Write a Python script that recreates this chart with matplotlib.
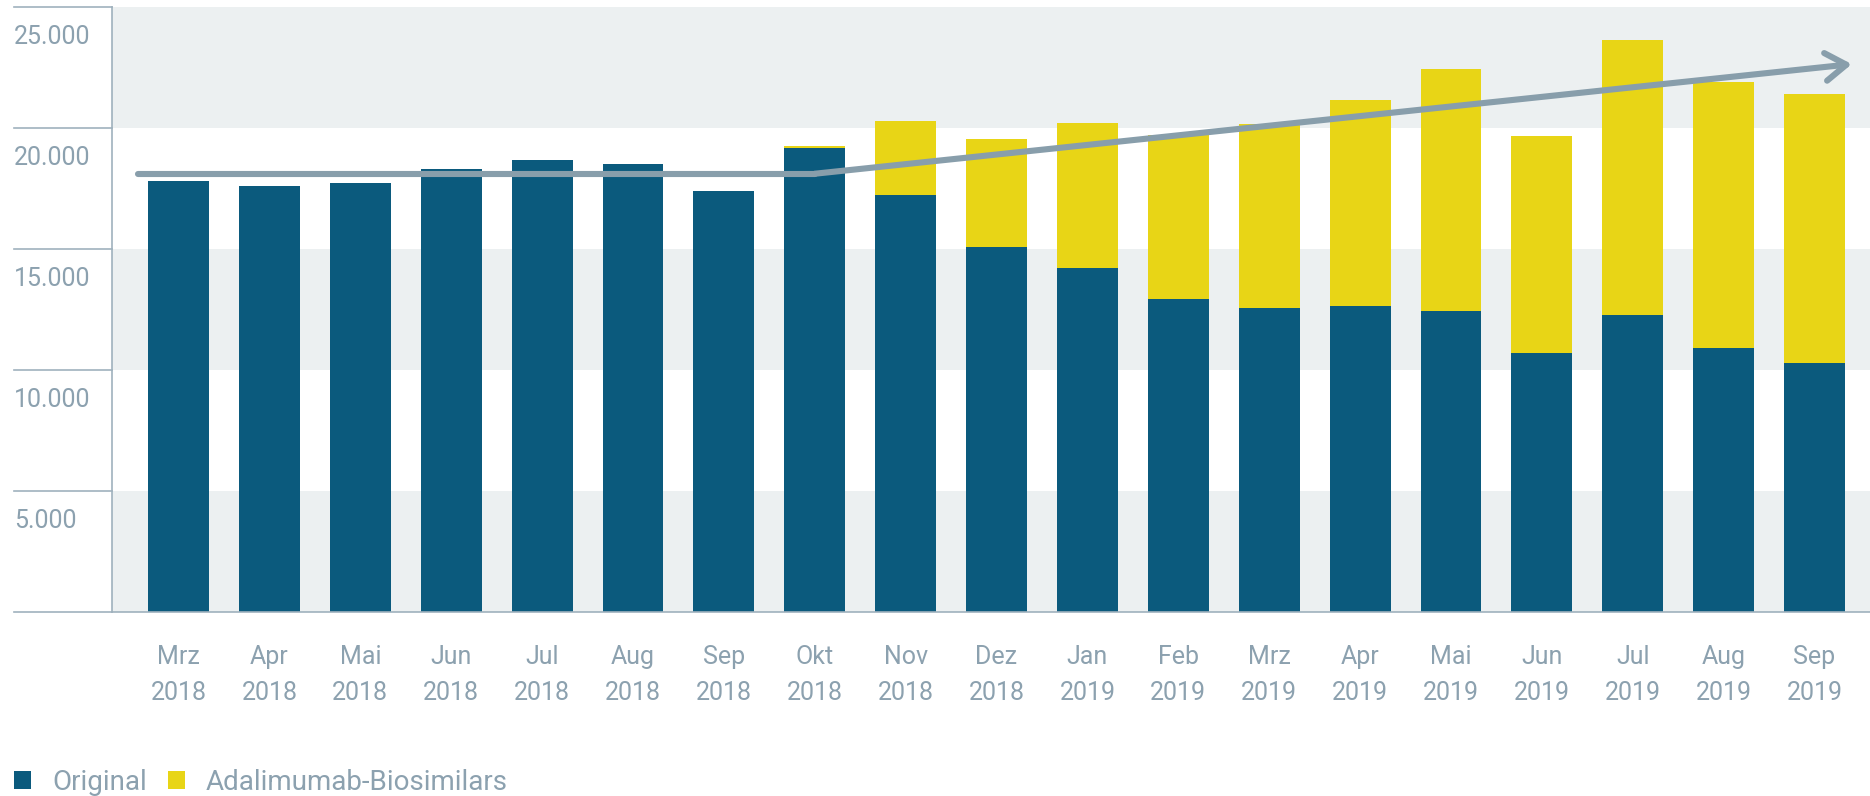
import matplotlib
matplotlib.use('Agg')
import matplotlib.pyplot as plt
from matplotlib.transforms import offset_copy

plt.rcParams['font.family'] = ['Roboto', 'DejaVu Sans']

# Verordnungen Adalimumab pro Monat
months = ['Mrz', 'Apr', 'Mai', 'Jun', 'Jul', 'Aug', 'Sep', 'Okt', 'Nov', 'Dez',
          'Jan', 'Feb', 'Mrz', 'Apr', 'Mai', 'Jun', 'Jul', 'Aug', 'Sep']
years = ['2018'] * 10 + ['2019'] * 9
original = [17800, 17620, 17710, 18300, 18670, 18500, 17390, 19170, 17240, 15080,
            14210, 12940, 12570, 12660, 12420, 10700, 12280, 10910, 10300]
biosimilars = [0, 0, 0, 0, 0, 0, 0, 90, 3050, 4450,
               6000, 6760, 7610, 8500, 10010, 8975, 11350, 10990, 11100]
y_ticks = [0, 5000, 10000, 15000, 20000, 25000]

# Trendpfeil
trend_x = [-0.45, 7, 18.41]
trend_y = [18110, 18110, 22640]

blue = '#0b5a7d'
yellow = '#e8d516'
band = '#ecf0f1'
grey = '#889eab'
txt = '#8ca1af'
axc = '#9fb1bd'

fig = plt.figure(figsize=(18.7, 7.96), dpi=100)
ax = fig.add_axes([112 / 1870, 184 / 796, 1758 / 1870, 605 / 796])

x = list(range(len(months)))
b1 = ax.bar(x, original, width=0.67, color=blue, zorder=2)
b2 = ax.bar(x, biosimilars, width=0.67, bottom=original, color=yellow, zorder=2)

# graue Streifen
for lo in y_ticks[0:-1:2]:
    ax.axhspan(lo, lo + 5000, color=band, lw=0, zorder=0)

ax.set_xlim(-0.732, 18.61)
ax.set_ylim(0, 25000)

# Trend
ax.plot(trend_x[:2], trend_y[:2], color=grey, lw=4.4, solid_capstyle='round', zorder=3)
ax.annotate('', xy=(trend_x[2], trend_y[2]), xytext=(trend_x[1], trend_y[1]),
            arrowprops=dict(arrowstyle='->, head_length=0.75, head_width=0.5',
                            mutation_scale=20, color=grey, lw=4.4,
                            shrinkA=0, shrinkB=0, capstyle='round', joinstyle='round'),
            zorder=3)

# y-Achse
for s in ['top', 'right']:
    ax.spines[s].set_visible(False)
ax.spines['left'].set_color(axc)
ax.spines['bottom'].set_color(axc)
ax.spines['left'].set_linewidth(1.2)
ax.spines['bottom'].set_linewidth(1.2)
ax.set_yticks([])
ytr = ax.get_yaxis_transform()
lab_tr = offset_copy(ytr, fig=fig, y=-30, units='dots')
for v in y_ticks:
    ax.plot([-0.0557, 0], [v, v], color=axc, lw=1.2, transform=ytr, clip_on=False)
    if v > 0:
        ax.text(-0.0557, v, f'{v:,}'.replace(',', '.'), transform=lab_tr,
                ha='left', va='center', fontsize=18, color=txt)

# x-Achse
ax.set_xticks(x, [f'{m}\n{y}' for m, y in zip(months, years)])
ax.tick_params(axis='x', length=0, pad=24, labelsize=18, labelcolor=txt)
for t in ax.get_xticklabels():
    t.set_linespacing(1.6)

fig.legend(handles=[b1, b2], labels=['Original', 'Adalimumab-Biosimilars'],
           loc='lower left', bbox_to_anchor=(14 / 1870, 0.0), ncol=2, frameon=False,
           fontsize=20, labelcolor=txt, handlelength=0.62, handleheight=0.62,
           handletextpad=0.75, columnspacing=0.75, borderpad=0, borderaxespad=0)

fig.savefig('out.png', dpi=100)
